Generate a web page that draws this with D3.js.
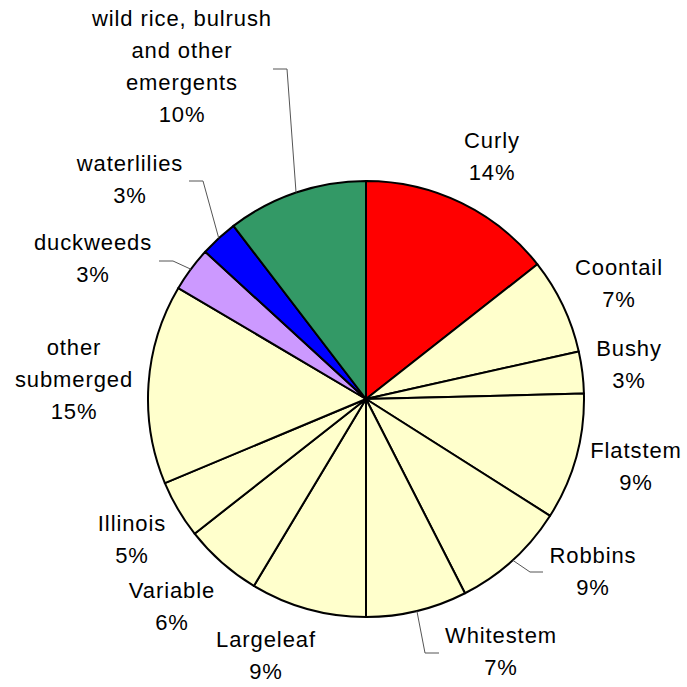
<!DOCTYPE html>
<html>
<head>
<meta charset="utf-8">
<script src="https://cdn.jsdelivr.net/npm/d3@7"></script>
<style>
  body { margin: 0; background: #fff; }
  text { font-family: "Liberation Sans", Arial, sans-serif; font-size: 22px; fill: #000; letter-spacing: 0.9px; }
</style>
</head>
<body>
<svg id="chart" width="687" height="687"></svg>
<script>
var names = ["Curly", "Coontail", "Bushy", "Flatstem", "Robbins", "Whitestem", "Largeleaf",
             "Variable", "Illinois", "other submerged", "duckweeds", "waterlilies",
             "wild rice, bulrush and other emergents"];
var shares = [14.4, 7.1, 3.1, 9.4, 8.5, 7.5, 8.6, 5.8, 4.3, 14.8, 3.3, 2.8, 10.4];
var pctLabels = ["14%", "7%", "3%", "9%", "9%", "7%", "9%", "6%", "5%", "15%", "3%", "3%", "10%"];
var labelLines = [["Curly"], ["Coontail"], ["Bushy"], ["Flatstem"], ["Robbins"], ["Whitestem"],
                  ["Largeleaf"], ["Variable"], ["Illinois"], ["other", "submerged"], ["duckweeds"],
                  ["waterlilies"], ["wild rice, bulrush", "and other", "emergents"]];
var fills = ["#ff0000", "#ffffcc", "#ffffcc", "#ffffcc", "#ffffcc", "#ffffcc", "#ffffcc",
             "#ffffcc", "#ffffcc", "#ffffcc", "#cc99ff", "#0000ff", "#339966"];

// layout: label anchor (centre x, first baseline) and leader elbows
var labelAt = [[492, 148], [619, 275], [629, 356], [636, 458], [593, 563], [501, 643],
               [266, 647], [172, 598], [132, 531], [74, 355], [93, 250], [130, 171], [182, 26]];
var leaders = { 4: [[530, 572], [543, 572]], 5: [[425, 653], [439, 653]],
                10: [[173, 261], [159, 261]], 11: [[203, 181], [189, 181]],
                12: [[287, 69], [273, 69]] };

var cx = 366, cy = 399, radius = 218, lineH = 32;

var svg = d3.select("#chart");
var g = svg.append("g").attr("transform", "translate(" + cx + "," + cy + ")");

var pie = d3.pie().sort(null).value(d => d);
var arcs = pie(shares);
var arc = d3.arc().innerRadius(0).outerRadius(radius);

g.selectAll("path.slice")
    .data(arcs)
    .enter().append("path")
        .attr("class", "slice")
        .attr("d", arc)
        .attr("fill", (d, i) => fills[i])
        .attr("stroke", "#000")
        .attr("stroke-width", 2)
        .attr("stroke-linejoin", "round");

// leader lines from the rim at mid angle
Object.keys(leaders).forEach(k => {
    var a = arcs[k];
    var mid = (a.startAngle + a.endAngle) / 2;
    var start = [cx + radius * Math.sin(mid), cy - radius * Math.cos(mid)];
    var pts = [start].concat(leaders[k]);
    svg.append("path")
        .attr("d", d3.line()(pts))
        .attr("fill", "none")
        .attr("stroke", "#555")
        .attr("stroke-width", 1);
});

// labels
names.forEach((n, i) => {
    var lines = labelLines[i].concat([pctLabels[i]]);
    var t = svg.append("text")
        .attr("text-anchor", "middle");
    lines.forEach((s, j) => {
        t.append("tspan")
            .attr("x", labelAt[i][0])
            .attr("y", labelAt[i][1] + j * lineH)
            .text(s);
    });
});
</script>
</body>
</html>
